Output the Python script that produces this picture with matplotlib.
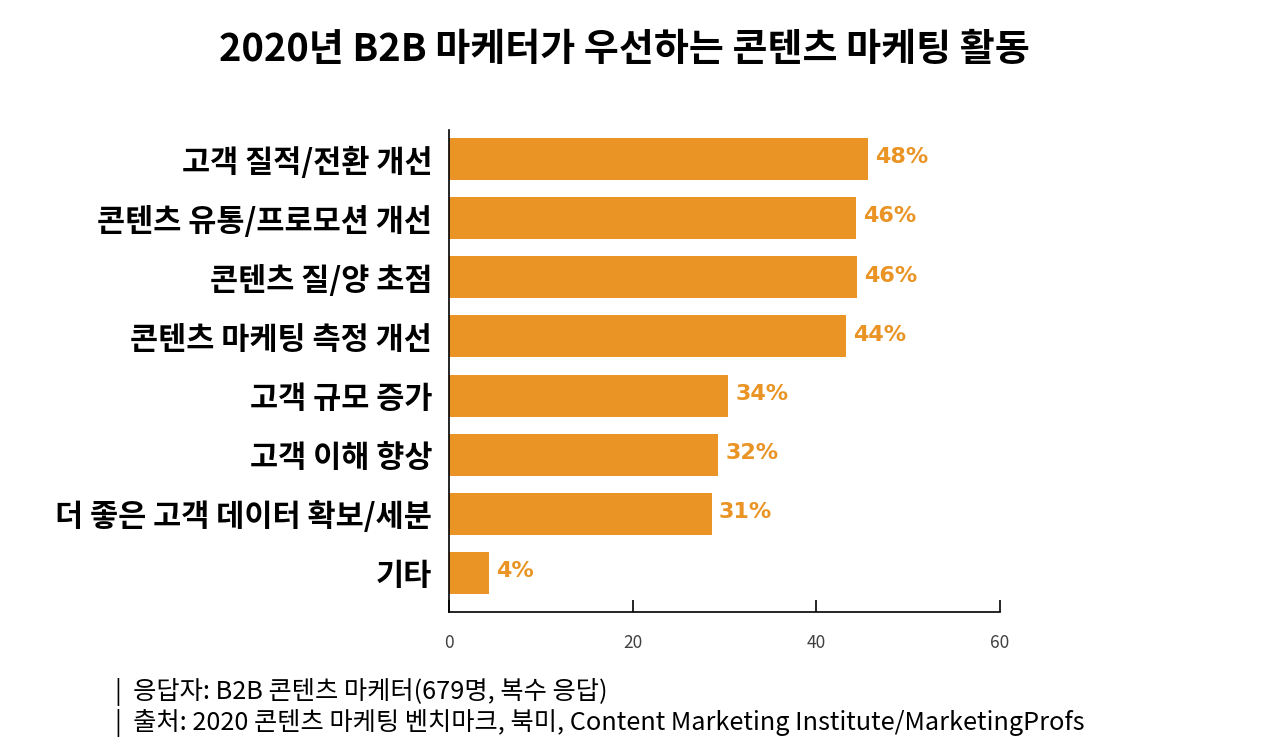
import matplotlib
matplotlib.use('Agg')
import matplotlib.pyplot as plt

plt.rcParams['font.family'] = ['Noto Sans CJK KR', 'DejaVu Sans']

TITLE = '2020년 B2B 마케터가 우선하는 콘텐츠 마케팅 활동'
CATEGORIES = [
    '고객 질적/전환 개선',
    '콘텐츠 유통/프로모션 개선',
    '콘텐츠 질/양 초점',
    '콘텐츠 마케팅 측정 개선',
    '고객 규모 증가',
    '고객 이해 향상',
    '더 좋은 고객 데이터 확보/세분',
    '기타',
]
# bar lengths as drawn in the source (they run a bit short of the printed labels)
BAR_VALUES = [45.6, 44.3, 44.4, 43.2, 30.4, 29.3, 28.6, 4.3]
VALUE_LABELS = ['48%', '46%', '46%', '44%', '34%', '32%', '31%', '4%']
X_TICKS = [0, 20, 40, 60]
NOTES = [
    '|  응답자: B2B 콘텐츠 마케터(679명, 복수 응답)',
    '|  출처: 2020 콘텐츠 마케팅 벤치마크, 북미, Content Marketing Institute/MarketingProfs',
]

BAR_COLOR = '#E99424'

fig = plt.figure(figsize=(12.8, 7.56), dpi=100)
ax = fig.add_axes([0.3508, 0.1905, 0.4305, 0.6375])

y = list(range(len(CATEGORIES)))
ax.barh(y, BAR_VALUES, height=0.71, color=BAR_COLOR)

for yi, v, lab in zip(y, BAR_VALUES, VALUE_LABELS):
    ax.text(v + 0.8, yi - 0.03, lab, va='center', ha='left',
            fontsize=16, fontweight='bold', color=BAR_COLOR,
            family='DejaVu Sans')

ax.set_ylim(len(CATEGORIES) - 1 + 0.66, -0.49)
ax.set_xlim(0, 60)
ax.set_yticks(y)
ax.set_yticklabels(CATEGORIES, fontsize=22, fontweight='bold')
ax.tick_params(axis='y', length=0, pad=12)
ax.set_xticks(X_TICKS)
ax.tick_params(axis='x', direction='in', length=9, width=1.2, pad=16,
               labelsize=12.5, labelcolor='#404040')
ax.spines[['top', 'right']].set_visible(False)
for s in ['left', 'bottom']:
    ax.spines[s].set_linewidth(1.2)

fig.text(0.4875, 0.934, TITLE, ha='center', va='center',
         fontsize=27.4, fontweight='bold')
fig.text(0.09, 0.084, NOTES[0], ha='left', va='center', fontsize=18.2)
fig.text(0.09, 0.044, NOTES[1], ha='left', va='center', fontsize=18.2)

fig.savefig('out.png', dpi=100)
